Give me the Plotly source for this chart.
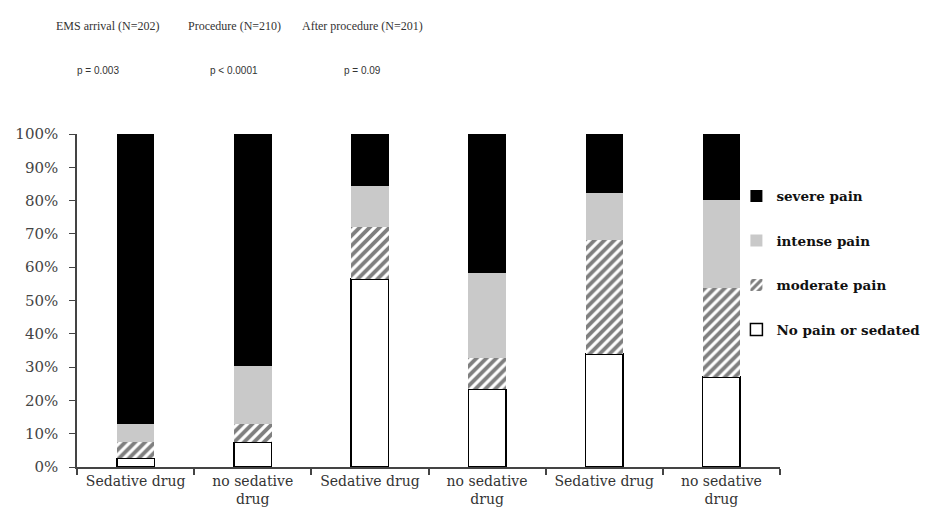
import plotly.graph_objects as go

categories = ["Sedative drug", "no sedative<br>drug", "Sedative drug", "no sedative<br>drug", "Sedative drug", "no sedative<br>drug"]
no_pain = [2.6, 7.4, 56.4, 23.3, 33.9, 27.1]
moderate = [5.0, 5.5, 15.8, 9.3, 34.3, 26.6]
intense = [5.3, 17.5, 12.2, 25.7, 14.0, 26.5]
severe = [87.1, 69.6, 15.6, 41.7, 17.8, 19.8]

phase_titles = ["EMS arrival (N=202)", "Procedure (N=210)", "After procedure (N=201)"]
p_values = ["p = 0.003", "p < 0.0001", "p = 0.09"]

x = list(range(len(categories)))
serif = "DejaVu Serif"

fig = go.Figure()
series = [
    ("No pain or sedated", no_pain, 4, dict(color="white", line=dict(color="black", width=1.5))),
    ("moderate pain", moderate, 3, dict(color="white", line=dict(width=0),
                                        pattern=dict(shape="/", fgcolor="black", bgcolor="white", size=7, solidity=0.55))),
    ("intense pain", intense, 2, dict(color="#c9c9c9", line=dict(width=0))),
    ("severe pain", severe, 1, dict(color="black", line=dict(width=0))),
]
for name, vals, rank, marker in series:
    fig.add_trace(go.Bar(x=x, y=[v / 100 for v in vals], name=name, marker=marker,
                         width=0.32, legendgroup=name, legendrank=rank))

fig.update_layout(
    barmode="stack",
    width=920, height=514,
    margin=dict(l=69, r=148, t=126, b=55, autoexpand=False),
    paper_bgcolor="white", plot_bgcolor="white",
    showlegend=True,
    legend=dict(x=0.938, xanchor="left", y=0.86, yanchor="top",
                traceorder="grouped", tracegroupgap=24,
                font=dict(family=serif, size=13.5, color="#111", weight="bold"),
                itemwidth=30, bgcolor="rgba(0,0,0,0)"),
    font=dict(family=serif, color="#333"),
)
fig.update_yaxes(range=[0, 1], tickvals=[i / 10 for i in range(11)],
                 ticktext=[f"{i*10}%" for i in range(11)], automargin=False,
                 showgrid=False, showline=True, linecolor="#444", linewidth=1.5,
                 ticks="outside", ticklen=6, tickcolor="#444", ticklabelstandoff=8,
                 tickfont=dict(family=serif, size=15, color="#444"), zeroline=False)
fig.update_xaxes(range=[-0.5, 5.5], tickvals=x, ticktext=categories, ticks="", automargin=False,
                 showgrid=False, showline=True, linecolor="#444", linewidth=2,
                 tickfont=dict(family=serif, size=14, color="#333"),
                 minor=dict(tickvals=[i - 0.5 for i in range(7)], ticks="outside",
                            ticklen=6, tickcolor="#444", tickwidth=1.5, showgrid=False),
                 zeroline=False)

title_px = [107, 234, 362]
p_px = [98, 234, 362]
for t, px in zip(phase_titles, title_px):
    fig.add_annotation(text=t, xref="paper", yref="paper", x=(px - 77) / 703, y=(467 - 26) / 333,
                       xanchor="center", yanchor="middle",
                       showarrow=False, font=dict(family="Liberation Serif", size=12, color="#333"))
for t, px in zip(p_values, p_px):
    fig.add_annotation(text=t, xref="paper", yref="paper", x=(px - 77) / 703, y=(467 - 71) / 333,
                       xanchor="center", yanchor="middle",
                       showarrow=False, font=dict(family="Liberation Sans", size=10, color="#333"))

fig.write_html("out.html")
